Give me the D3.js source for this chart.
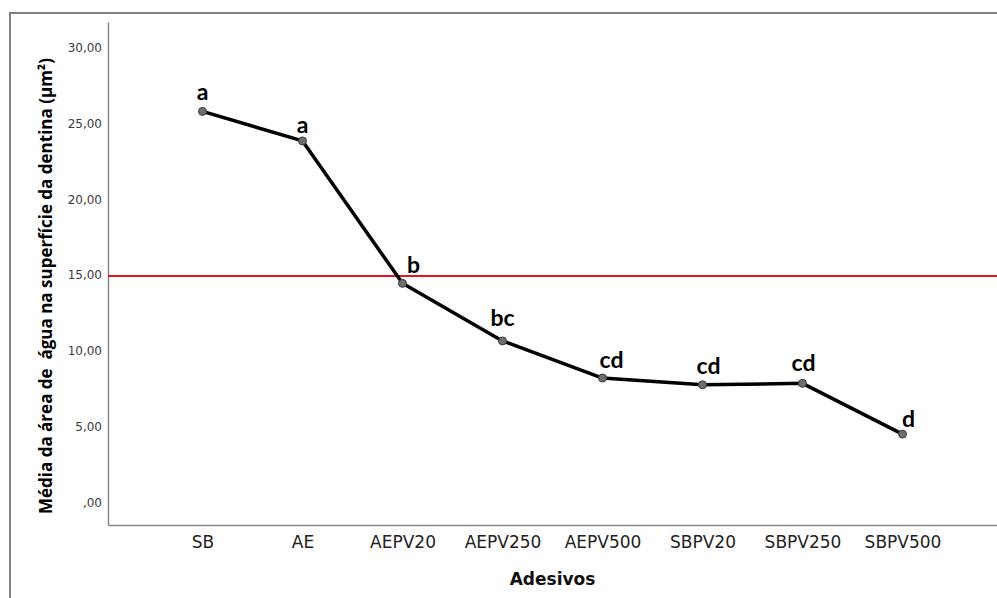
<!DOCTYPE html>
<html>
<head>
<meta charset="utf-8">
<script src="https://cdn.jsdelivr.net/npm/d3@7"></script>
<style>
  body { margin: 0; background: #fff; }
</style>
</head>
<body>
<div class="container"></div>
<script>
// data
const categories = ["SB", "AE", "AEPV20", "AEPV250", "AEPV500", "SBPV20", "SBPV250", "SBPV500"];
const means = [25.8, 23.85, 14.45, 10.65, 8.2, 7.75, 7.85, 4.5];
const groupLetters = ["a", "a", "b", "bc", "cd", "cd", "cd", "d"];
const yTicks = [0, 5, 10, 15, 20, 25, 30];
const referenceValue = 14.93;

// hand placed letters (px offsets from each point)
const letterNudge = [[0, -11], [0, -8], [11, -10], [0, -15], [9, -10], [6, -11], [1, -12], [6, -7]];

const WIDTH = 997;
const HEIGHT = 598;
const AXIS_LEFT = 108;
const AXIS_RIGHT = 997;
const AXIS_TOP = 22;
const AXIS_BOTTOM = 525;

var translate = function (x, y) {
  return "translate(" + x + "," + y + ")";
};

var locale = d3.formatLocale({ decimal: ",", thousands: ".", grouping: [3] });
var fmt = function (d) {
  var s = locale.format(".2f")(d);
  return s.replace(/^0,/, ",");
};

var svg = d3.select(".container").append("svg")
    .attr("width", WIDTH)
    .attr("height", HEIGHT);

// outer frame (left and top edges)
svg.append("path")
    .attr("d", "M10," + HEIGHT + "V13H" + WIDTH)
    .attr("fill", "none")
    .attr("stroke", "#808080")
    .attr("stroke-width", 2);

var x = d3.scalePoint()
    .domain(categories)
    .range([AXIS_LEFT, AXIS_RIGHT])
    .padding(0.945);

var y = d3.scaleLinear()
    .domain([-1.5, 31.7])
    .range([AXIS_BOTTOM, AXIS_TOP]);

var yAxis = d3.axisLeft(y)
    .tickValues(yTicks)
    .tickSize(0)
    .tickPadding(6)
    .tickFormat(fmt);

var gy = svg.append("g")
    .attr("transform", translate(AXIS_LEFT, 0))
    .call(yAxis);
gy.select(".domain").attr("stroke", "#888").attr("stroke-width", 1.5);
gy.selectAll("text")
    .attr("font-family", "DejaVu Sans")
    .attr("font-size", 12)
    .attr("fill", "#3a3a3a");

var xAxis = d3.axisBottom(x)
    .tickSize(0)
    .tickPadding(11);

var gx = svg.append("g")
    .attr("transform", translate(0, AXIS_BOTTOM))
    .call(xAxis);
gx.select(".domain").attr("stroke", "#888").attr("stroke-width", 1.5);
gx.selectAll("text")
    .attr("font-family", "DejaVu Sans")
    .attr("font-size", 17)
    .attr("fill", "#222");

// axis titles
svg.append("text")
    .attr("x", (AXIS_LEFT + AXIS_RIGHT) / 2)
    .attr("y", 585)
    .attr("text-anchor", "middle")
    .attr("font-family", "DejaVu Sans")
    .attr("font-weight", "bold")
    .attr("font-size", 17)
    .attr("fill", "#111")
    .text("Adesivos");

svg.append("text")
    .attr("transform", translate(52, 286) + " rotate(-90)")
    .attr("text-anchor", "middle")
    .attr("font-family", "Open Sans")
    .attr("font-weight", "bold")
    .attr("font-size", 17)
    .attr("fill", "#000")
    .style("white-space", "pre")
    .text("Média da área de  água na superfície da dentina (µm²)");

// reference line
svg.append("line")
    .attr("x1", AXIS_LEFT)
    .attr("x2", AXIS_RIGHT)
    .attr("y1", y(referenceValue))
    .attr("y2", y(referenceValue))
    .attr("stroke", "#e8141b")
    .attr("stroke-width", 2);

var line = d3.line()
    .x(function (d, i) { return x(categories[i]); })
    .y(function (d) { return y(d); });

svg.append("path")
    .datum(means)
    .attr("d", line)
    .attr("fill", "none")
    .attr("stroke", "#000")
    .attr("stroke-width", 3.5)
    .attr("stroke-linejoin", "round");

svg.selectAll(".pt")
    .data(means)
  .enter().append("circle")
    .attr("class", "pt")
    .attr("cx", function (d, i) { return x(categories[i]); })
    .attr("cy", function (d) { return y(d); })
    .attr("r", 4)
    .attr("fill", "#6e6e6e")
    .attr("stroke", "#3a3a3a")
    .attr("stroke-width", 1);

svg.selectAll(".letter")
    .data(groupLetters)
  .enter().append("text")
    .attr("class", "letter")
    .attr("x", function (d, i) { return x(categories[i]) + letterNudge[i][0]; })
    .attr("y", function (d, i) { return y(means[i]) + letterNudge[i][1]; })
    .attr("text-anchor", "middle")
    .attr("font-family", "Lato")
    .attr("font-weight", "bold")
    .attr("font-size", 23)
    .attr("fill", "#000")
    .text(function (d) { return d; });
</script>
</body>
</html>
